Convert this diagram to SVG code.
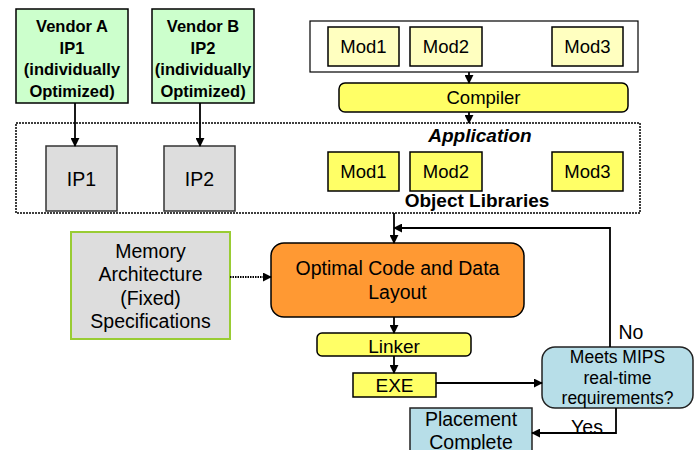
<svg xmlns="http://www.w3.org/2000/svg" width="697" height="450" viewBox="0 0 697 450">
<style>
text{font-family:"Liberation Sans",Arial,sans-serif;fill:#000;text-anchor:middle}
.b{font-weight:bold}
.box{stroke:#000;stroke-width:1.5}
.ln{stroke:#000;stroke-width:1.8;fill:none}
</style>
<defs>
<marker id="ah" viewBox="0 0 10 10" refX="9" refY="5" markerWidth="5" markerHeight="5" orient="auto">
<path d="M0,0 L10,5 L0,10 z" fill="#000"/>
</marker>
</defs>
<rect width="697" height="450" fill="#fff"/>

<g id="vendorA">
<rect class="box" x="16" y="9" width="112" height="94" fill="#CCFFCC"/>
<text class="b" font-size="16.5" x="72" y="32">Vendor A</text>
<text class="b" font-size="16.5" x="72" y="54">IP1</text>
<text class="b" font-size="16.5" x="72" y="75">(individually</text>
<text class="b" font-size="16.5" x="72" y="97">Optimized)</text>
</g>
<g id="vendorB">
<rect class="box" x="152" y="9" width="102" height="94" fill="#CCFFCC"/>
<text class="b" font-size="16.5" x="203" y="32">Vendor B</text>
<text class="b" font-size="16.5" x="203" y="54">IP2</text>
<text class="b" font-size="16.5" x="203" y="75">(individually</text>
<text class="b" font-size="16.5" x="203" y="97">Optimized)</text>
</g>

<g id="sourceMods">
<rect x="310" y="21" width="328" height="51" fill="#fff" stroke="#000" stroke-width="1.2"/>
<rect class="box" x="328" y="27" width="71" height="39" fill="#FFFFC0"/>
<text font-size="18.5" x="363.5" y="53">Mod1</text>
<rect class="box" x="410" y="27" width="72" height="39" fill="#FFFFC0"/>
<text font-size="18.5" x="446" y="53">Mod2</text>
<rect class="box" x="552" y="27" width="71" height="39" fill="#FFFFC0"/>
<text font-size="18.5" x="587.5" y="53">Mod3</text>
</g>

<g id="compiler">
<rect class="box" x="339" y="83" width="289" height="29" rx="6" fill="#FFFF66"/>
<text font-size="18.5" x="483.5" y="104">Compiler</text>
</g>

<g id="application">
<rect x="16" y="123" width="624" height="90" fill="none" stroke="#000" stroke-width="1.5" stroke-dasharray="2,1"/>
<text class="b" font-style="italic" font-size="19" x="480" y="142">Application</text>
<text class="b" font-size="19" x="477" y="207">Object Libraries</text>
</g>

<g id="ip1">
<rect x="46" y="146" width="71" height="65" fill="#DDDDDD" stroke="#333" stroke-width="1.5"/>
<text font-size="19.5" x="81.5" y="186">IP1</text>
</g>
<g id="ip2">
<rect x="164" y="146" width="71" height="65" fill="#DDDDDD" stroke="#333" stroke-width="1.5"/>
<text font-size="19.5" x="199.5" y="186">IP2</text>
</g>

<g id="objMods">
<rect class="box" x="328" y="152" width="71" height="39" fill="#FFFF66"/>
<text font-size="18.5" x="363.5" y="178">Mod1</text>
<rect class="box" x="410" y="152" width="72" height="39" fill="#FFFF66"/>
<text font-size="18.5" x="446" y="178">Mod2</text>
<rect class="box" x="552" y="152" width="71" height="39" fill="#FFFF66"/>
<text font-size="18.5" x="587.5" y="178">Mod3</text>
</g>

<g id="memory">
<rect x="71" y="232" width="159" height="107" fill="#DDDDDD" stroke="#99CC33" stroke-width="2"/>
<text font-size="19.5" x="150.5" y="258">Memory</text>
<text font-size="19.5" x="150.5" y="281">Architecture</text>
<text font-size="19.5" x="150.5" y="305">(Fixed)</text>
<text font-size="19.5" x="150.5" y="328">Specifications</text>
</g>

<g id="optimal">
<rect class="box" x="271" y="243" width="253" height="74" rx="13" fill="#FF9933"/>
<text font-size="19.5" x="397.5" y="275">Optimal Code and Data</text>
<text font-size="19.5" x="397.5" y="299">Layout</text>
</g>

<g id="linker">
<rect class="box" x="317" y="333" width="154" height="23" rx="5" fill="#FFFF66"/>
<text font-size="19" x="394" y="353">Linker</text>
</g>

<g id="exe">
<rect class="box" x="353" y="373" width="83" height="24" fill="#FFFF66"/>
<text font-size="19" x="394.5" y="392">EXE</text>
</g>

<g id="meets">
<rect x="542" y="347" width="151" height="61" rx="13" fill="#B7DEE8" stroke="#222" stroke-width="1.5"/>
<text font-size="17.5" x="617.5" y="363">Meets MIPS</text>
<text font-size="17.5" x="617.5" y="384">real-time</text>
<text font-size="17.5" x="617.5" y="404">requirements?</text>
</g>

<g id="placement">
<rect x="410" y="408" width="122" height="50" fill="#B7DEE8" stroke="#222" stroke-width="1.5"/>
<text font-size="19.5" x="471" y="426">Placement</text>
<text font-size="19.5" x="471" y="449">Complete</text>
</g>

<g id="connectors">
<line class="ln" x1="75" y1="103" x2="75" y2="146" marker-end="url(#ah)"/>
<line class="ln" x1="200" y1="103" x2="200" y2="146" marker-end="url(#ah)"/>
<line class="ln" x1="469" y1="72" x2="469" y2="83" marker-end="url(#ah)"/>
<line class="ln" x1="469" y1="112" x2="469" y2="123" marker-end="url(#ah)"/>
<line class="ln" x1="394" y1="213" x2="394" y2="243" marker-end="url(#ah)"/>
<polyline class="ln" points="610,347 610,228 394,228" marker-end="url(#ah)"/>
<line x1="230" y1="277" x2="271" y2="277" stroke="#000" stroke-width="1.8" stroke-dasharray="1.5,1" marker-end="url(#ah)"/>
<line class="ln" x1="394" y1="317" x2="394" y2="333" marker-end="url(#ah)"/>
<line class="ln" x1="394" y1="356" x2="394" y2="373" marker-end="url(#ah)"/>
<line class="ln" x1="436" y1="383" x2="542" y2="383" marker-end="url(#ah)"/>
<polyline class="ln" points="616,408 616,433 532,433" marker-end="url(#ah)"/>
<text font-size="19.5" x="631" y="339">No</text>
<text font-size="19.5" x="587" y="434">Yes</text>
</g>
</svg>
